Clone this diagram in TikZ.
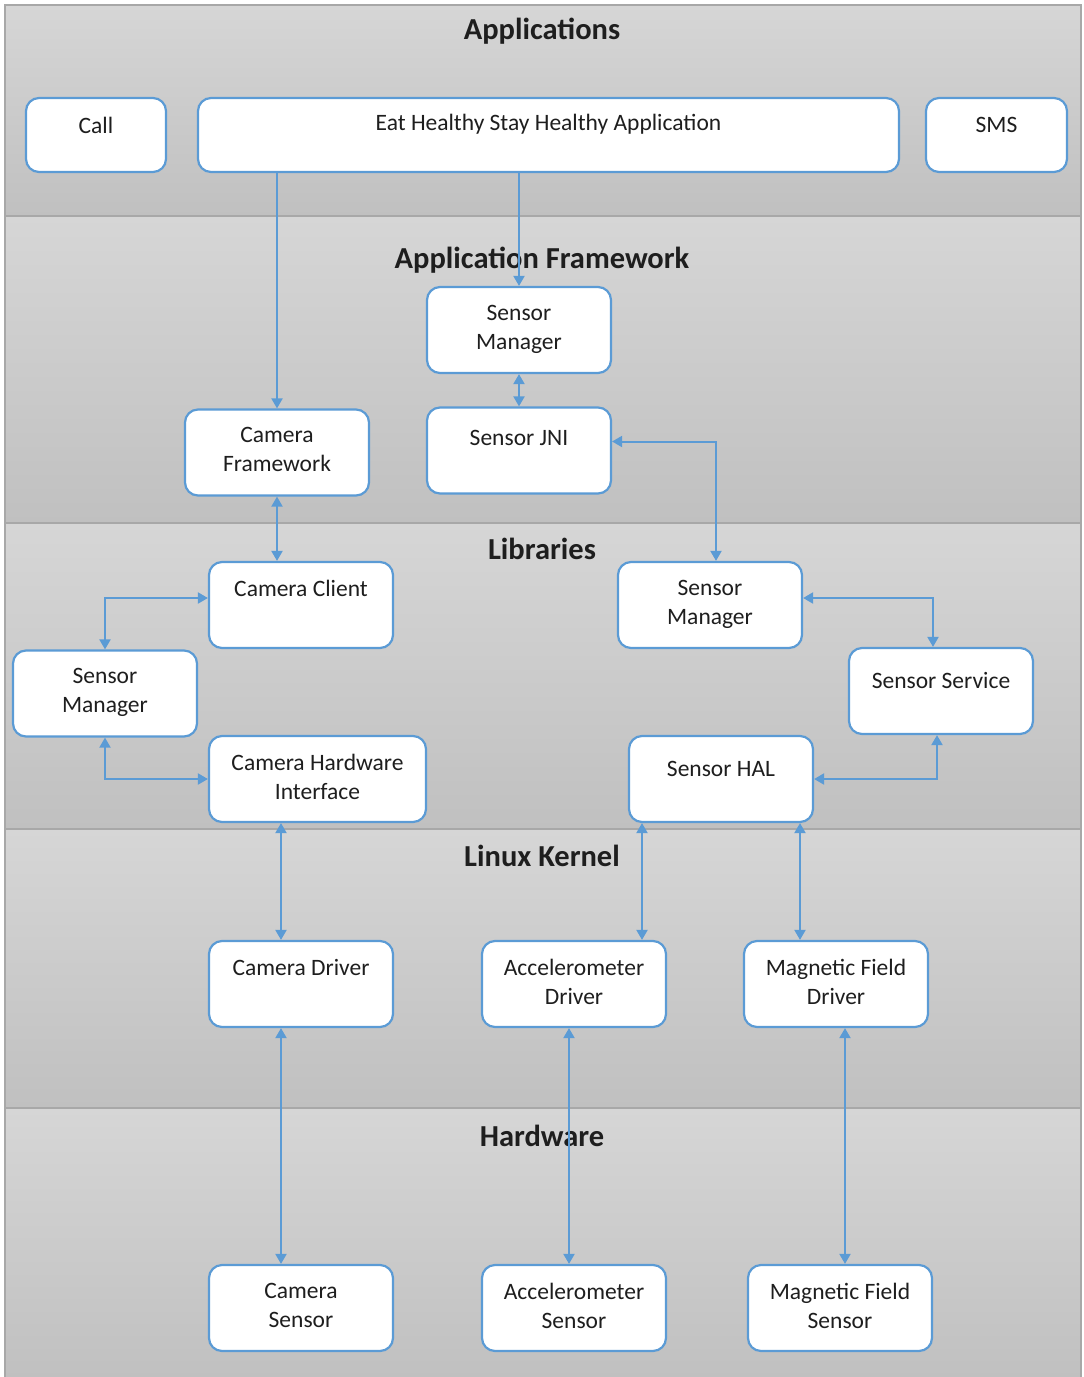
\documentclass[tikz,border=0pt]{standalone}
\usepackage{fontspec}
\setmainfont{Carlito}
\usetikzlibrary{arrows.meta}

\definecolor{edgeblue}{HTML}{5B9BD5}
\definecolor{layertop}{HTML}{D6D6D6}
\definecolor{layerbot}{HTML}{C0C0C0}
\definecolor{layerline}{HTML}{A8A8A8}
\definecolor{inkgray}{HTML}{1E1E1E}

\begin{document}
\begin{tikzpicture}[x=1pt, y=-1pt,
  layer/.style={top color=layertop, bottom color=layerbot, draw=layerline, line width=2.4pt},
  title/.style={font=\fontsize{30.5}{36}\selectfont\bfseries, text=inkgray},
  unit/.style={draw=edgeblue, line width=2.2pt, fill=white, rounded corners=13pt,
    minimum width=184pt, minimum height=86pt, inner sep=0pt},
  tag/.style={anchor=north, yshift=-19pt, inner sep=0pt, align=center, text=inkgray,
    font=\fontsize{23.5}{29}\selectfont},
  both/.style={draw=edgeblue, line width=2pt,
    {Triangle[width=11pt,length=10pt]}-{Triangle[width=11pt,length=10pt]}},
  link/.style={draw=edgeblue, line width=2pt, -{Triangle[width=11pt,length=10pt]}}
]
\useasboundingbox (0,0) rectangle (1084,1377);

% layers
\draw[layer] (5,5) rectangle (1081,216);
\draw[layer] (5,216) rectangle (1081,523);
\draw[layer] (5,523) rectangle (1081,829);
\draw[layer] (5,829) rectangle (1081,1108);
\draw[layer] (5,1108) rectangle (1081,1379);

\node[title] (tapps) at (542,31) {Applications};
\node[title] (tframe) at (542,260) {Application Framework};
\node[title] (tlibs) at (542,549) {Libraries};
\node[title] (tkernel) at (542,856) {Linux Kernel};
\node[title] (thw) at (542,1136) {Hardware};

% applications
\node[unit, minimum width=140pt, minimum height=74pt, label={[tag, yshift=-1pt]north:Call}] (call) at (96,135) {};
\node[unit, minimum width=701pt, minimum height=74pt, label={[tag, yshift=2pt]north:Eat Healthy Stay Healthy Application}] (app) at (548.5,135) {};
\node[unit, minimum width=141pt, minimum height=74pt, label={[tag, yshift=-1pt]north:SMS}] (sms) at (996.5,135) {};

% framework
\node[unit, label={[tag]north:Sensor\\Manager}] (fwmgr) at (519,330) {};
\node[unit, label={[tag, yshift=-5pt]north:Sensor JNI}] (jni) at (519,450.5) {};
\node[unit, label={[tag]north:Camera\\Framework}] (camfw) at (277,452.5) {};

% libraries
\node[unit, label={[tag]north:Camera Client}] (camclient) at (301,605) {};
\node[unit, label={[tag]north:Sensor\\Manager}] (libmgr) at (105,693.5) {};
\node[unit, minimum width=217pt, label={[tag]north:Camera Hardware\\Interface}] (camhw) at (317.5,779) {};
\node[unit, label={[tag]north:Sensor\\Manager}] (sensmgr) at (710,605) {};
\node[unit, label={[tag, yshift=-6pt]north:Sensor Service}] (service) at (941,691) {};
\node[unit, label={[tag, yshift=-7pt]north:Sensor HAL}] (hal) at (721,779) {};

% kernel
\node[unit, label={[tag]north:Camera Driver}] (camdrv) at (301,984) {};
\node[unit, label={[tag]north:Accelerometer\\Driver}] (accdrv) at (574,984) {};
\node[unit, label={[tag]north:Magnetic Field\\Driver}] (magdrv) at (836,984) {};

% hardware
\node[unit, label={[tag]north:Camera\\Sensor}] (camsens) at (301,1308) {};
\node[unit, label={[tag]north:Accelerometer\\Sensor}] (accsens) at (574,1308) {};
\node[unit, label={[tag]north:Magnetic Field\\Sensor}] (magsens) at (840,1308) {};

% connectors
\draw[link] (camfw.north |- app.south) -- (camfw.north);
\draw[link] (fwmgr.north |- app.south) -- (fwmgr.north);
\draw[both] (fwmgr.south) -- (jni.north);
\draw[both] ([yshift=9pt]jni.east) -| ([xshift=6pt]sensmgr.north);
\draw[both] (camfw.south) -- (camfw.south |- camclient.north);
\draw[both] ([yshift=7pt]camclient.west) -| (libmgr.north);
\draw[both] (libmgr.south) |- (camhw.west);
\draw[both] ([yshift=7pt]sensmgr.east) -| ([xshift=-8pt]service.north);
\draw[both] (hal.east) -| ([xshift=-4pt]service.south);

\coordinate (camdrvin) at ([xshift=-20pt]camdrv.north);
\coordinate (camdrvout) at ([xshift=-20pt]camdrv.south);
\coordinate (halleft) at ([xshift=-79pt]hal.south);
\coordinate (halright) at ([xshift=79pt]hal.south);
\coordinate (accdrvout) at ([xshift=-5pt]accdrv.south);
\coordinate (magdrvout) at ([xshift=9pt]magdrv.south);

\draw[both] (camdrvin |- camhw.south) -- (camdrvin);
\draw[both] (halleft) -- (halleft |- accdrv.north);
\draw[both] (halright) -- (halright |- magdrv.north);
\draw[both] (camdrvout) -- (camdrvout |- camsens.north);
\draw[both] (accdrvout) -- (accdrvout |- accsens.north);
\draw[both] (magdrvout) -- (magdrvout |- magsens.north);
\end{tikzpicture}
\end{document}
